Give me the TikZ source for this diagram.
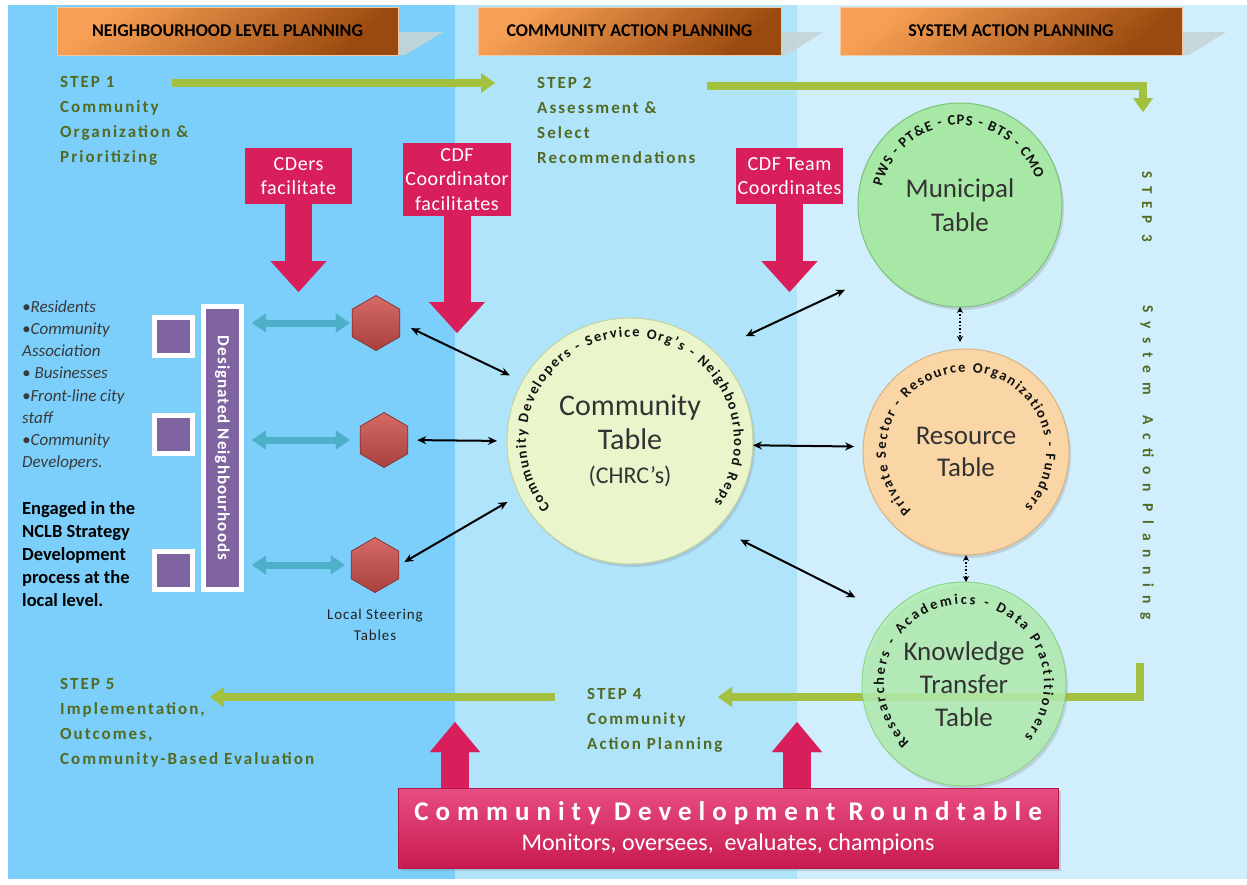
\documentclass[tikz,border=0pt]{standalone}
\usepackage{fontspec}
\setmainfont{Carlito}
\newfontfamily\stepfont{Carlito}[LetterSpace=12]
\newfontfamily\rtfont{Carlito}[LetterSpace=26]
\newfontfamily\sysfont{Carlito}[LetterSpace=50]
\newfontfamily\sysfontb{Carlito}[LetterSpace=56]
\newfontfamily\dnfont{Carlito}[LetterSpace=6]
\newfontfamily\lstfont{Carlito}[LetterSpace=6]
\newfontfamily\pbfont{Carlito}[LetterSpace=3]
\newcommand\curvefont{\bfseries\fontsize{14.5}{14.5}\selectfont}
\usetikzlibrary{arrows.meta,shapes.geometric,shadows,decorations.text,calc}
\definecolor{bandL}{HTML}{7BCFFA}
\definecolor{bandM}{HTML}{B0E4FB}
\definecolor{bandR}{HTML}{D0EEFC}
\definecolor{pinkc}{HTML}{D91F5B}
\definecolor{rtL}{HTML}{E84E82}
\definecolor{rtD}{HTML}{C81A50}
\definecolor{rtB}{HTML}{B0174A}
\definecolor{stepc}{HTML}{536A22}
\definecolor{greenA}{HTML}{A3C13F}
\definecolor{tealc}{HTML}{4DAFC8}
\definecolor{purp}{HTML}{8064A2}
\definecolor{hexL}{HTML}{D66B67}
\definecolor{hexD}{HTML}{A8403D}
\definecolor{hexB}{HTML}{8B3431}
\definecolor{ctfill}{HTML}{EAF5CC}
\definecolor{ctB}{HTML}{C5D3A0}
\definecolor{munfill}{HTML}{A8E8A6}
\definecolor{munB}{HTML}{7DC27A}
\definecolor{resfill}{HTML}{FAD6A6}
\definecolor{resB}{HTML}{D9B27E}
\definecolor{knfill}{HTML}{B2EFB0}
\definecolor{knB}{HTML}{8FD48C}
\definecolor{tblText}{HTML}{333333}
\definecolor{orL}{HTML}{F7A055}
\definecolor{orD}{HTML}{9B4A0F}
\definecolor{orB}{HTML}{F3C9A3}
\definecolor{hdshadow}{HTML}{C6D5D8}
\definecolor{bulc}{HTML}{3A3A3A}
\definecolor{lstc}{HTML}{222222}
\definecolor{curvec}{HTML}{111111}
\begin{document}
\begin{tikzpicture}[x=1pt,y=1pt,
  hdr/.style={rectangle, minimum height=48pt, inner sep=0pt, draw=orB, line width=0.8pt,
    top color=orL, bottom color=orD, shading angle=40,
    font=\bfseries\fontsize{18}{20}\selectfont, text=black},
  steptext/.style={align=left, inner sep=0pt, text=stepc, font=\stepfont\bfseries\fontsize{17}{25}\selectfont},
  grarr/.style={draw=greenA, line width=8pt, line join=miter, -{Triangle[length=14pt,width=20pt,line width=0.01pt]}},
  pinkbox/.style={rectangle, fill=pinkc, inner sep=0pt, align=center, text=white, font=\pbfont\fontsize{20}{24.5}\selectfont},
  pinkarr/.style={draw=pinkc, line width=27pt, -{Triangle[length=31pt,width=56pt,line width=0.01pt]}},
  uparr/.style={draw=pinkc, line width=28pt, -{Triangle[length=30pt,width=50pt,line width=0.01pt]}},
  sq/.style={rectangle, fill=purp, draw=white, line width=5pt, minimum size=38pt, inner sep=0pt,
    drop shadow={opacity=0.3, shadow xshift=2pt, shadow yshift=-2pt}},
  hexs/.style={regular polygon, regular polygon sides=6, shape border rotate=90, minimum size=55pt,
    inner sep=0pt, top color=hexL, bottom color=hexD, draw=hexB, line width=0.8pt},
  tealarr/.style={draw=tealc, line width=7pt,
    {Triangle[length=14pt,width=19pt,line width=0.01pt]}-{Triangle[length=14pt,width=19pt,line width=0.01pt]}},
  blk/.style={draw=black, line width=2pt, {Stealth[length=9pt,width=8pt]}-{Stealth[length=9pt,width=8pt]}},
  dotblk/.style={draw=black, line width=1.5pt, dash pattern=on 1.5pt off 2pt,
    {Stealth[length=6pt,width=6pt]}-{Stealth[length=6pt,width=6pt]}},
  tbl/.style={circle, inner sep=0pt, outer sep=0pt, align=center, text=tblText, line width=1pt,
    drop shadow={opacity=0.25, shadow xshift=2pt, shadow yshift=-3pt}},
  curve/.style={decorate, decoration={text along path, text align={fit to path}, text color=curvec, text={|\curvefont|#1}}},
  rtbox/.style={rectangle, inner sep=0pt, top color=rtL, bottom color=rtD, draw=rtB, line width=0.8pt,
    align=center, text=white, drop shadow={opacity=0.3, shadow xshift=3pt, shadow yshift=-3pt}}
]
\useasboundingbox (0,0) rectangle (1247,-884);
\fill[white] (0,0) rectangle (1247,-884);
% background bands
\fill[bandL] (8,-5) rectangle (455,-879);
\fill[bandM] (455,-5) rectangle (797,-879);
\fill[bandR] (797,-5) rectangle (1247,-879);

% header shadows and boxes
\fill[hdshadow, opacity=0.9] (370,-32) -- (443,-32) -- (405,-55) -- (370,-55) -- cycle;
\fill[hdshadow, opacity=0.9] (760,-32) -- (823,-32) -- (787,-55) -- (760,-55) -- cycle;
\fill[hdshadow, opacity=0.9] (1160,-32) -- (1226,-32) -- (1189,-55) -- (1160,-55) -- cycle;
\node[hdr, minimum width=341pt] (hd1) at (227.5,-31) {NEIGHBOURHOOD LEVEL PLANNING};
\node[hdr, minimum width=303pt] (hd2) at (629.5,-31) {COMMUNITY ACTION PLANNING};
\node[hdr, minimum width=342pt] (hd3) at (1011,-31) {SYSTEM ACTION PLANNING};

% step texts
\node[steptext, anchor=west] (st1) at (60,-120.5) {STEP 1\\Community\\Organization \&\\Prioritizing};
\node[steptext, anchor=west] (st2) at (537,-120.5) {STEP 2\\Assessment \&\\Select\\Recommendations};
\node[steptext, anchor=west] (st4) at (587,-720) {STEP 4\\Community\\Action Planning};
\node[steptext, anchor=west] (st5) at (60,-723) {STEP 5\\Implementation,\\Outcomes,\\Community-Based Evaluation};
\node[rotate=-90, inner sep=0pt, text=stepc, font=\sysfont\bfseries\fontsize{15}{18}\selectfont] (st3) at (1147,-207) {STEP 3};
\node[rotate=-90, inner sep=0pt, text=stepc, font=\sysfontb\bfseries\fontsize{15.5}{18}\selectfont] (st3b) at (1147,-463) {System\hspace{8pt} Action Planning};

% green step arrows
\coordinate (g1s) at (172,-83);
\coordinate (g1e) at (495,-83);
\draw[grarr] (g1s) -- (g1e);
\coordinate (g2s) at (707,-86);
\coordinate (g2c) at (1143,-86);
\coordinate (g2e) at (1143,-112);
\draw[grarr] (g2s) -- (g2c) -- (g2e);
\coordinate (g3s) at (1140,-663);
\coordinate (g3c) at (1140,-697);
\coordinate (g3e) at (718,-697);
\draw[grarr] (g3s) -- (g3c) -- (g3e);
\coordinate (g4s) at (555,-697);
\coordinate (g4e) at (210,-697);
\draw[grarr] (g4s) -- (g4e);

% left texts
\node[anchor=west, align=left, inner sep=0pt, text=bulc, font=\itshape\fontsize{17}{22.2}\selectfont] (bul) at (22,-385.5)
  {\textbullet Residents\\\textbullet Community\\Association\\\textbullet\ Businesses\\\textbullet Front-line city\\staff\\\textbullet Community\\Developers.};
\node[anchor=west, align=left, inner sep=0pt, text=black, font=\bfseries\fontsize{18.5}{23}\selectfont] (eng) at (22,-554)
  {Engaged in the\\NCLB Strategy\\Development\\process at the\\local level.};

% purple squares and bar
\node[sq] (sq1) at (173.5,-336) {};
\node[sq] (sq2) at (173.5,-434) {};
\node[sq] (sq3) at (173.5,-570) {};
\node[sq, rotate=-90, minimum width=283pt, minimum height=38pt, text=white,
  font=\dnfont\bfseries\fontsize{17}{20}\selectfont] (bar) at (222.5,-448) {Designated Neighbourhoods};

% hexagons
\node[hexs] (h1) at (376,-323) {};
\node[hexs] (h2) at (384,-440) {};
\node[hexs] (h3) at (375,-565) {};
\node[align=center, inner sep=0pt, text=lstc, font=\lstfont\fontsize{15}{21}\selectfont] (lst) at (375,-625) {Local Steering\\Tables};

% teal arrows
\draw[tealarr, shorten <=8pt, shorten >=2pt] (bar.north |- h1) -- (h1.west);
\draw[tealarr, shorten <=8pt, shorten >=10pt] (bar.north |- h2) -- (h2.west);
\draw[tealarr, shorten <=8pt, shorten >=6pt] (bar.north |- h3) -- (h3.west);

% tables
\node[tbl, fill=ctfill, draw=ctB, minimum size=246pt, font=\fontsize{30}{34}\selectfont] (ct) at (630,-441)
  {Community\\Table\\{\fontsize{24}{28}\selectfont (CHRC's)}};
\node[tbl, fill=munfill, draw=munB, minimum size=204pt, font=\fontsize{27}{34}\selectfont] (mun) at (960,-205)
  {Municipal\\Table};
\node[tbl, fill=resfill, draw=resB, minimum size=206pt, font=\fontsize{27}{32}\selectfont] (res) at (966,-452)
  {Resource\\Table};
\node[tbl, fill=knfill, fill opacity=0.82, text opacity=1, draw=knB, minimum size=204pt, font=\fontsize{27}{33}\selectfont] (kn) at (964,-684)
  {Knowledge\\Transfer\\Table};

\path[curve={Community Developers - Service Org's - Neighbourhood Reps}]
  ($(ct.center)+(220:104)$) arc[start angle=220, end angle=-36, radius=104];
\path[curve={PWS - PT{\&}E - CPS - BTS - CMO}]
  ($(mun.center)+(167:80)$) arc[start angle=167, end angle=19, radius=80];
\path[curve={Private Sector - Resource Organizations - Funders}]
  ($(res.center)+(227:80)$) arc[start angle=227, end angle=-43, radius=80];
\path[curve={Researchers - Academics - Data Practitioners}]
  ($(kn.center)+(227:80)$) arc[start angle=227, end angle=-41, radius=80];

% black connectors
\draw[blk, shorten <=12pt, shorten >=14pt] (h1.east) -- (ct.151.8);
\draw[blk, shorten <=9pt, shorten >=10pt] (h2.east) -- (ct.180);
\draw[blk, shorten <=6pt, shorten >=14pt] (h3.east) -- (ct.206);
\draw[blk, shorten <=35pt, shorten >=42pt] (ct.47.8) -- (mun.221.5);
\draw[blk, shorten >=9pt] (ct.-2) -- (res.177);
\draw[blk, shorten <=26pt, shorten >=38pt] (ct.-45.3) -- (kn.137);
\draw[dotblk, shorten >=7pt] (mun.south) -- (mun.south |- res.north);
\draw[dotblk] (res.south) -- (res.south |- kn.north);

% pink callouts
\node[pinkbox, minimum width=107pt, minimum height=56pt] (cders) at (298.5,-176) {CDers\\facilitate};
\node[pinkbox, minimum width=108pt, minimum height=73pt] (cdf) at (457,-179.5) {CDF\\Coordinator\\facilitates};
\node[pinkbox, minimum width=107pt, minimum height=56pt] (team) at (789.5,-176) {CDF Team\\Coordinates};
\coordinate (cdersTip) at (298.5,-292);
\coordinate (cdfTip) at (457,-333);
\coordinate (teamTip) at (789.5,-292);
\draw[pinkarr] (cders.south) -- (cdersTip);
\draw[pinkarr] (cdf.south) -- (cdfTip);
\draw[pinkarr] (team.south) -- (teamTip);

% roundtable
\node[rtbox, minimum width=660pt, minimum height=80pt, font=\fontsize{24}{30}\selectfont] (rt) at (728,-828)
  {{\rtfont\bfseries\fontsize{27}{30}\selectfont Community Development Roundtable}\\
   Monitors, oversees,\ \ evaluates, champions};
\coordinate (up1) at (455,-722);
\coordinate (up2) at (797,-722);
\draw[uparr] (rt.north -| up1) -- (up1);
\draw[uparr] (rt.north -| up2) -- (up2);
\end{tikzpicture}
\end{document}
